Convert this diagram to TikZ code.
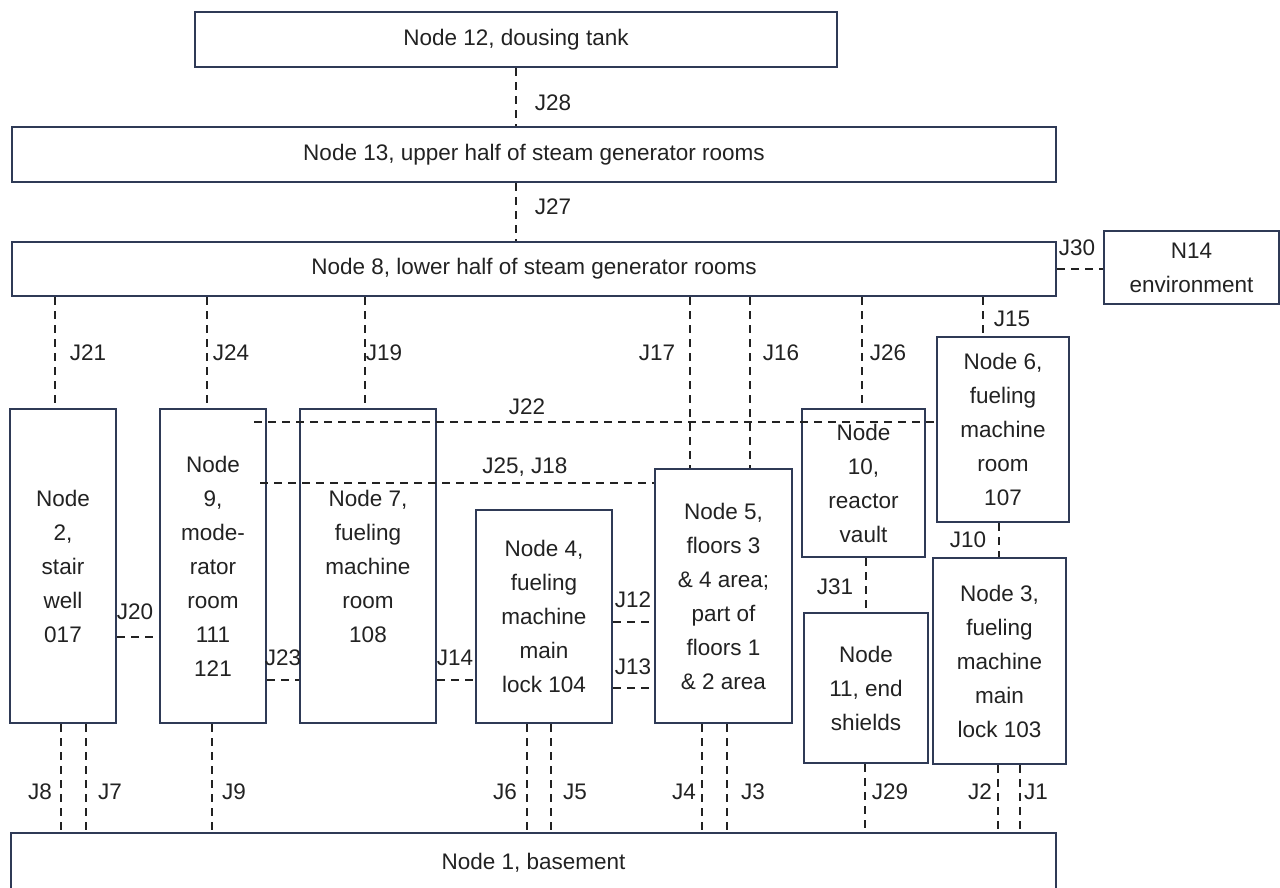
\documentclass[tikz,border=0pt]{standalone}
\usepackage{fontspec}
\setmainfont{Liberation Sans}
\definecolor{boxc}{HTML}{2F3A56}
\definecolor{inkc}{HTML}{222222}
\tikzset{
  room/.style={draw=boxc, line width=2pt, fill=white, inner sep=0pt,
    align=center, text=inkc, font=\fontsize{22.5}{34}\selectfont},
  conn/.style={line width=2.2pt, dash pattern=on 8pt off 6pt, draw=inkc},
  lbl/.style={font=\fontsize{22.5}{26}\selectfont, inner sep=0pt, text=inkc}
}
% \roomnode{name}{left}{top}{right}{bottom}{text}
\newcommand\roomnode[6]{%
  \node[room, minimum width={(#4-#2)*1pt}, minimum height={(#5-#3)*1pt}]
    (#1) at ({(#2+#4)/2},{(#3+#5)/2}) {#6};}
\begin{document}
\begin{tikzpicture}[x=1pt,y=-1pt]
\useasboundingbox (0,0) rectangle (1280,887);

% rooms
\roomnode{n12}{195}{12}{837}{67}{Node 12, dousing tank}
\roomnode{n13}{12}{127}{1056}{182}{Node 13, upper half of steam generator rooms}
\roomnode{n8}{12}{242}{1056}{296}{Node 8, lower half of steam generator rooms}
\roomnode{n14}{1104}{231}{1279}{304}{N14\\environment}
\roomnode{n2}{10}{409}{116}{723}{Node\\2,\\stair\\well\\017}
\roomnode{n9}{160}{409}{266}{723}{Node\\9,\\mode-\\rator\\room\\111\\121}
\roomnode{n7}{300}{409}{436}{723}{Node 7,\\fueling\\machine\\room\\108}
\roomnode{n4}{476}{510}{612}{723}{Node 4,\\fueling\\machine\\main\\lock 104}
\roomnode{n5}{655}{469}{792}{723}{Node 5,\\floors 3\\\& 4 area;\\part of\\floors 1\\\& 2 area}
\roomnode{n10}{802}{409}{925}{557}{Node\\10,\\reactor\\vault}
\roomnode{n6}{937}{337}{1069}{522}{Node 6,\\fueling\\machine\\room\\107}
\roomnode{n11}{804}{613}{928}{763}{Node\\11, end\\shields}
\roomnode{n3}{933}{558}{1066}{764}{Node 3,\\fueling\\machine\\main\\lock 103}
\roomnode{n1}{11}{833}{1056}{892}{Node 1, basement}

% x positions of vertical junctions, y positions of horizontal ones
\coordinate (x28) at (516,0);
\coordinate (x21) at (55,0);
\coordinate (x24) at (207,0);
\coordinate (x19) at (365,0);
\coordinate (x17) at (690,0);
\coordinate (x16) at (750,0);
\coordinate (x26) at (862,0);
\coordinate (x15) at (983,0);
\coordinate (x10) at (999,0);
\coordinate (x31) at (866,0);
\coordinate (x8) at (61,0);
\coordinate (x7) at (86,0);
\coordinate (x9) at (212,0);
\coordinate (x6) at (527,0);
\coordinate (x5) at (551,0);
\coordinate (x4) at (702,0);
\coordinate (x3) at (727,0);
\coordinate (x29) at (865,0);
\coordinate (x2) at (998,0);
\coordinate (x1) at (1020,0);
\coordinate (y30) at (0,269);
\coordinate (y20) at (0,637);
\coordinate (y23) at (0,680);
\coordinate (y12) at (0,622);
\coordinate (y13) at (0,688);
\coordinate (j22) at (254,422);
\coordinate (j25) at (260,483);

% vertical junctions
\draw[conn] (n12.south -| x28) -- (n13.north -| x28);
\draw[conn] (n13.south -| x28) -- (n8.north -| x28);
\draw[conn] (n8.south -| x21) -- (n2.north -| x21);
\draw[conn] (n8.south -| x24) -- (n9.north -| x24);
\draw[conn] (n8.south -| x19) -- (n7.north -| x19);
\draw[conn] (n8.south -| x17) -- (n5.north -| x17);
\draw[conn] (n8.south -| x16) -- (n5.north -| x16);
\draw[conn] (n8.south -| x26) -- (n10.north -| x26);
\draw[conn] (n8.south -| x15) -- (n6.north -| x15);
\draw[conn] (n6.south -| x10) -- (n3.north -| x10);
\draw[conn] (n10.south -| x31) -- (n11.north -| x31);
\draw[conn] (n2.south -| x8) -- (n1.north -| x8);
\draw[conn] (n2.south -| x7) -- (n1.north -| x7);
\draw[conn] (n9.south -| x9) -- (n1.north -| x9);
\draw[conn] (n4.south -| x6) -- (n1.north -| x6);
\draw[conn] (n4.south -| x5) -- (n1.north -| x5);
\draw[conn] (n5.south -| x4) -- (n1.north -| x4);
\draw[conn] (n5.south -| x3) -- (n1.north -| x3);
\draw[conn] (n11.south -| x29) -- (n1.north -| x29);
\draw[conn] (n3.south -| x2) -- (n1.north -| x2);
\draw[conn] (n3.south -| x1) -- (n1.north -| x1);

% horizontal junctions
\draw[conn] (n8.east |- y30) -- (n14.west |- y30);
\draw[conn] (n2.east |- y20) -- (n9.west |- y20);
\draw[conn] (n9.east |- y23) -- (n7.west |- y23);
\draw[conn] (n7.east |- y23) -- (n4.west |- y23);
\draw[conn] (n4.east |- y12) -- (n5.west |- y12);
\draw[conn] (n4.east |- y13) -- (n5.west |- y13);
\draw[conn] (j22) -- (j22 -| n6.west);
\draw[conn] (j25) -- (j25 -| n5.west);

% junction labels
\node[lbl] (l28) at (553,103) {J28};
\node[lbl] (l27) at (553,207) {J27};
\node[lbl] (l30) at (1077,248) {J30};
\node[lbl] (l21) at (88,353) {J21};
\node[lbl] (l24) at (231,353) {J24};
\node[lbl] (l19) at (384,353) {J19};
\node[lbl] (l17) at (657,353) {J17};
\node[lbl] (l16) at (781,353) {J16};
\node[lbl] (l26) at (888,353) {J26};
\node[lbl] (l15) at (1012,319) {J15};
\node[lbl] (l22) at (527,407) {J22};
\node[lbl] (l25) at (525,467) {J25, J18};
\node[lbl] (l20) at (135,612) {J20};
\node[lbl] (l23) at (283,658) {J23};
\node[lbl] (l14) at (455,658) {J14};
\node[lbl] (l12) at (633,600) {J12};
\node[lbl] (l13) at (633,667) {J13};
\node[lbl] (l10) at (968,540) {J10};
\node[lbl] (l31) at (835,587) {J31};
\node[lbl] (l8) at (40,792) {J8};
\node[lbl] (l7) at (110,792) {J7};
\node[lbl] (l9) at (234,792) {J9};
\node[lbl] (l6) at (505,792) {J6};
\node[lbl] (l5) at (575,792) {J5};
\node[lbl] (l4) at (684,792) {J4};
\node[lbl] (l3) at (753,792) {J3};
\node[lbl] (l29) at (890,792) {J29};
\node[lbl] (l2) at (980,792) {J2};
\node[lbl] (l1) at (1036,792) {J1};
\end{tikzpicture}
\end{document}
